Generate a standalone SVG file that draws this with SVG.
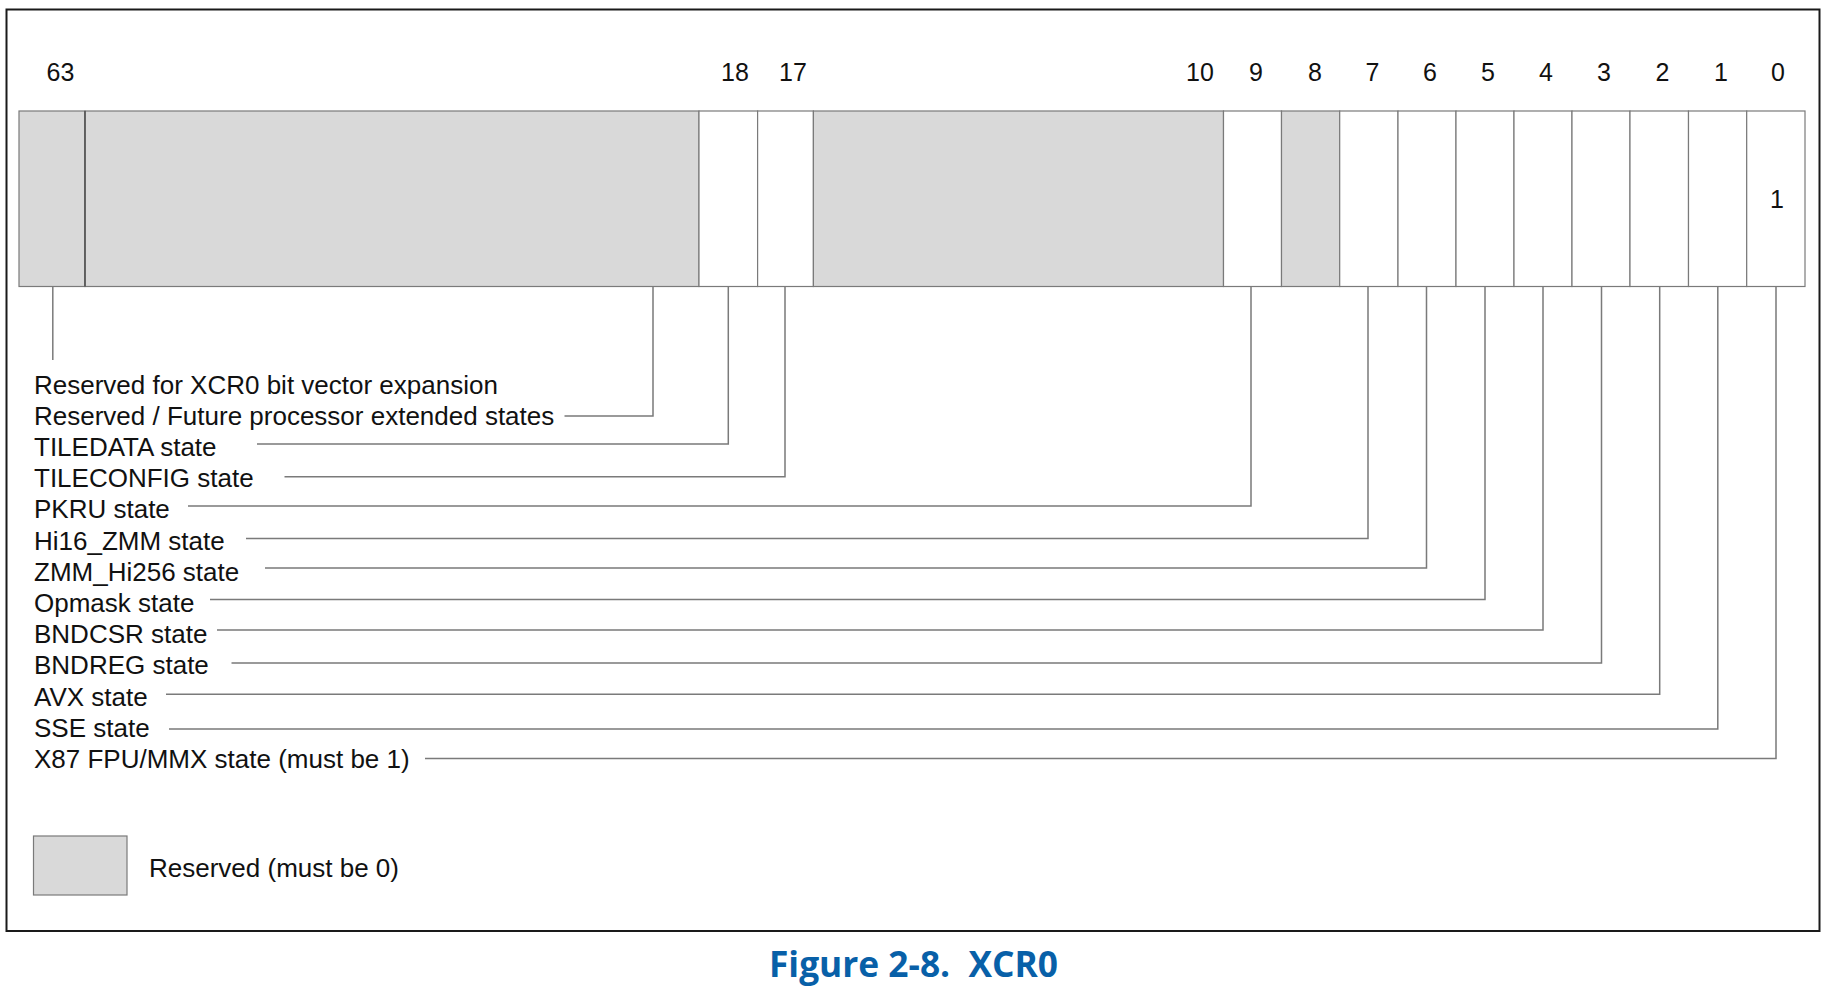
<svg xmlns="http://www.w3.org/2000/svg" width="1829" height="993" viewBox="0 0 1829 993">
<style>
.t{font-family:"Liberation Sans",Arial,sans-serif;font-size:26px;fill:#111}
.n{font-family:"Liberation Sans",Arial,sans-serif;font-size:25px;fill:#111;text-anchor:middle}
.res{fill:#d9d9d9;stroke:#7a7a7a;stroke-width:1.2}
.cell{fill:#ffffff;stroke:#7a7a7a;stroke-width:1.2}
.c{fill:none;stroke:#7a7a7a;stroke-width:1.5}
.title{font-family:"Open Sans","Noto Sans","DejaVu Sans",sans-serif;font-weight:bold;font-size:35px;fill:#0860a8}
</style>
<rect x="0" y="0" width="1829" height="993" fill="#ffffff"/>
<rect id="frame" x="6.5" y="9.5" width="1813" height="921.5" fill="none" stroke="#1a1a1a" stroke-width="2"/>

<g id="register">
  <g id="bit63"><rect class="res" x="19" y="111" width="66" height="175.5"/></g>
  <g id="bits62-19"><rect class="res" x="85" y="111" width="614" height="175.5"/><line x1="85" y1="111" x2="85" y2="286.5" stroke="#505050" stroke-width="1.5"/></g>
  <g id="bit18"><rect class="cell" x="699" y="111" width="58.6" height="175.5"/></g>
  <g id="bit17"><rect class="cell" x="757.6" y="111" width="55.8" height="175.5"/></g>
  <g id="bits16-10"><rect class="res" x="813.4" y="111" width="410.1" height="175.5"/></g>
  <g id="bit9"><rect class="cell" x="1223.5" y="111" width="58" height="175.5"/></g>
  <g id="bit8"><rect class="res" x="1281.5" y="111" width="58.2" height="175.5"/></g>
  <g id="bit7"><rect class="cell" x="1339.7" y="111" width="58.3" height="175.5"/></g>
  <g id="bit6"><rect class="cell" x="1398" y="111" width="58" height="175.5"/></g>
  <g id="bit5"><rect class="cell" x="1456" y="111" width="58" height="175.5"/></g>
  <g id="bit4"><rect class="cell" x="1514" y="111" width="58" height="175.5"/></g>
  <g id="bit3"><rect class="cell" x="1572" y="111" width="58" height="175.5"/></g>
  <g id="bit2"><rect class="cell" x="1630" y="111" width="58.5" height="175.5"/></g>
  <g id="bit1"><rect class="cell" x="1688.5" y="111" width="58.2" height="175.5"/></g>
  <g id="bit0"><rect class="cell" x="1746.7" y="111" width="58.3" height="175.5"/><text class="n" x="1777" y="207.5">1</text></g>
</g>

<g id="bit-numbers">
  <text class="n" x="60.5" y="80.7">63</text>
  <text class="n" x="735" y="80.7">18</text>
  <text class="n" x="793" y="80.7">17</text>
  <text class="n" x="1200" y="80.7">10</text>
  <text class="n" x="1256" y="80.7">9</text>
  <text class="n" x="1315" y="80.7">8</text>
  <text class="n" x="1372.5" y="80.7">7</text>
  <text class="n" x="1430" y="80.7">6</text>
  <text class="n" x="1488" y="80.7">5</text>
  <text class="n" x="1546" y="80.7">4</text>
  <text class="n" x="1604" y="80.7">3</text>
  <text class="n" x="1662.5" y="80.7">2</text>
  <text class="n" x="1721" y="80.7">1</text>
  <text class="n" x="1778" y="80.7">0</text>
</g>

<g id="connectors">
  <path class="c" d="M52.8,286.5 V360"/>
  <path class="c" d="M564.5,416 H653 V286.5"/>
  <path class="c" d="M257,444 H728.3 V286.5"/>
  <path class="c" d="M284.5,476.7 H785 V286.5"/>
  <path class="c" d="M188,506 H1251 V286.5"/>
  <path class="c" d="M246,538.5 H1368 V286.5"/>
  <path class="c" d="M265,568 H1426.5 V286.5"/>
  <path class="c" d="M210,599.5 H1485 V286.5"/>
  <path class="c" d="M217,630 H1543 V286.5"/>
  <path class="c" d="M231.5,663 H1601.5 V286.5"/>
  <path class="c" d="M166,694.3 H1659.7 V286.5"/>
  <path class="c" d="M169,729 H1717.8 V286.5"/>
  <path class="c" d="M425,758.5 H1776 V286.5"/>
</g>

<g id="labels">
  <g id="lbl-xcr0-exp"><text class="t" x="34" y="393.5">Reserved for XCR0 bit vector expansion</text></g>
  <g id="lbl-future"><text class="t" x="34" y="424.7">Reserved / Future processor extended states</text></g>
  <g id="lbl-tiledata"><text class="t" x="34" y="455.9">TILEDATA state</text></g>
  <g id="lbl-tileconfig"><text class="t" x="34" y="487.1">TILECONFIG state</text></g>
  <g id="lbl-pkru"><text class="t" x="34" y="518.3">PKRU state</text></g>
  <g id="lbl-hi16"><text class="t" x="34" y="549.5">Hi16_ZMM state</text></g>
  <g id="lbl-zmmhi256"><text class="t" x="34" y="580.7">ZMM_Hi256 state</text></g>
  <g id="lbl-opmask"><text class="t" x="34" y="611.9">Opmask state</text></g>
  <g id="lbl-bndcsr"><text class="t" x="34" y="643.1">BNDCSR state</text></g>
  <g id="lbl-bndreg"><text class="t" x="34" y="674.3">BNDREG state</text></g>
  <g id="lbl-avx"><text class="t" x="34" y="705.5">AVX state</text></g>
  <g id="lbl-sse"><text class="t" x="34" y="736.7">SSE state</text></g>
  <g id="lbl-x87"><text class="t" x="34" y="767.9">X87 FPU/MMX state (must be 1)</text></g>
</g>

<g id="legend">
  <rect class="res" x="33.5" y="836" width="93.5" height="59"/>
  <text class="t" x="149" y="877">Reserved (must be 0)</text>
</g>

<g id="caption">
  <text class="title" x="769" y="977" textLength="289" lengthAdjust="spacingAndGlyphs" xml:space="preserve">Figure 2-8.  XCR0</text>
</g>
</svg>
